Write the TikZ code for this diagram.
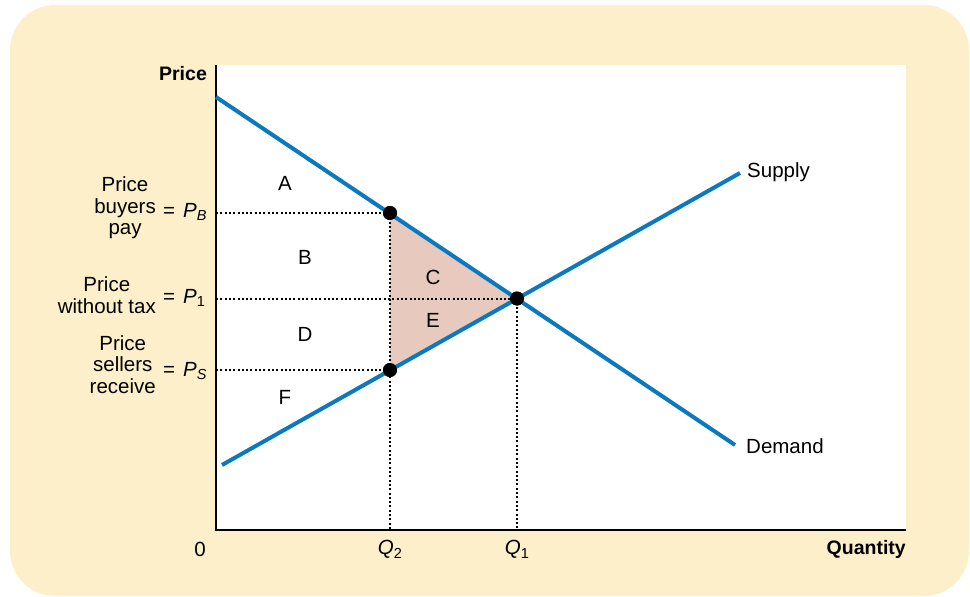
\documentclass[tikz,border=0pt]{standalone}
\usepackage{fontspec}
\setmainfont{Liberation Sans}
\definecolor{panel}{HTML}{FCEFC9}
\definecolor{curveblue}{HTML}{0B79C0}
\definecolor{dwl}{HTML}{E7C9BD}
\tikzset{
  lbl/.style={inner sep=0pt, font=\fontsize{20.5}{21.5}\selectfont},
  boldlbl/.style={inner sep=0pt, font=\fontsize{19.5}{21.5}\selectfont\bfseries},
  axisline/.style={draw=black, line width=1.4pt},
  curveline/.style={draw=curveblue, line width=4pt},
  dotline/.style={draw=black, line width=2pt, dash pattern=on 2pt off 2.3pt},
  eqdot/.style={circle, fill=black, minimum size=14pt, inner sep=0pt}
}
\newcommand{\Psub}[2]{\textit{#1}\raisebox{-0.35ex}{\fontsize{14.5}{14.5}\selectfont #2}}
\begin{document}
\begin{tikzpicture}[x=1pt,y=-1pt]
\useasboundingbox (0,0) rectangle (970,597);
\fill[panel, rounded corners=45pt] (10,5) rectangle (969,596);
\fill[white] (216,65) rectangle (906,530);
% coordinates
\coordinate (top) at (216,65);
\coordinate (origin) at (216,530);
\coordinate (xend) at (906,530);
\coordinate (d0) at (216,97);
\coordinate (d1) at (735,445);
\coordinate (s0) at (222,465);
\coordinate (s1) at (740,173);
\coordinate (yB) at (216,213);
\coordinate (y1) at (216,298.5);
\coordinate (yS) at (216,370);
\coordinate (xQ2) at (390,530);
\coordinate (xQ1) at (517,530);
\node[eqdot] (pb) at (390,213) {};
\node[eqdot] (e) at (517,298.5) {};
\node[eqdot] (ps) at (390,370) {};
% deadweight loss
\fill[dwl] (pb.center) -- (e.center) -- (ps.center) -- cycle;
% dotted guides
\draw[dotline] (yB) -- (pb.center);
\draw[dotline] (y1) -- (e.center);
\draw[dotline] (yS) -- (ps.center);
\draw[dotline] (pb.center) -- (xQ2);
\draw[dotline] (e.center) -- (xQ1);
% axes
\draw[axisline] (top) -- (origin) -- (xend);
% curves
\draw[curveline] (d0) -- (d1);
\draw[curveline] (s0) -- (s1);
% dots on top
\node[eqdot] at (pb) {};
\node[eqdot] at (e) {};
\node[eqdot] at (ps) {};
% area labels
\node[lbl] (la) at (285,183) {A};
\node[lbl] (lb) at (305,257) {B};
\node[lbl] (lc) at (433,277) {C};
\node[lbl] (ld) at (305,334) {D};
\node[lbl] (le) at (433,320) {E};
\node[lbl] (lf) at (285,397) {F};
% curve labels
\node[lbl, anchor=west] (sup) at (747,172) {Supply};
\node[lbl, anchor=west] (dem) at (746,446) {Demand};
% axis labels
\node[boldlbl] (ptitle) at (183,74) {Price};
\node[boldlbl, anchor=east] (qtitle) at (906,549) {Quantity};
\node[lbl] (zero) at (200,549) {0};
\node[lbl] (q2) at (390,549) {\Psub{Q}{2}};
\node[lbl] (q1) at (517,549) {\Psub{Q}{1}};
% price labels
\node[lbl, align=center, anchor=east] (tb) at (156,208) {Price\\buyers\\pay};
\node[lbl, anchor=west] (eb) at (163,212) {=\hspace{8pt}\Psub{P}{\textit{B}}};
\node[lbl, align=center, anchor=east] (t1) at (156,295) {Price\\without tax};
\node[lbl, anchor=west] (e1) at (163,298) {=\hspace{8pt}\Psub{P}{1}};
\node[lbl, align=center, anchor=east] (ts) at (156,364.5) {Price\\sellers\\receive};
\node[lbl, anchor=west] (es) at (163,371) {=\hspace{8pt}\Psub{P}{\textit{S}}};
\end{tikzpicture}
\end{document}
